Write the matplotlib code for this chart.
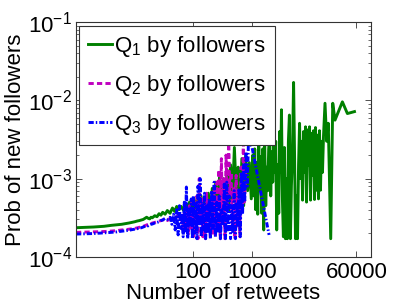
import matplotlib
matplotlib.use("Agg")
import matplotlib.pyplot as plt
from matplotlib.ticker import FixedLocator, FixedFormatter, NullLocator, LogLocator

plt.rcParams['font.family'] = ['Liberation Sans', 'DejaVu Sans']
plt.rcParams['mathtext.fontset'] = 'custom'
plt.rcParams['mathtext.rm'] = 'Liberation Sans'
plt.rcParams['mathtext.it'] = 'Liberation Sans:italic'

# ---------------- data ----------------
q1_x = [1, 2, 3, 4, 5, 6, 7, 8, 9, 10, 11, 12, 13, 14, 15, 16, 17, 18, 19, 20,
        22, 24, 26, 28, 30, 33, 36, 40, 44, 48, 52, 57,
        62, 68, 74, 80, 86, 93, 100, 108, 116, 125, 135, 145, 156, 168, 180, 195,
        210, 225, 240, 260, 280, 300, 325, 350, 375, 400, 430, 460, 500, 540, 580,
        620, 670, 720, 780, 840, 900, 970,
        1030, 1070, 1110, 1150, 1200, 1250, 1300, 1350, 1400, 1460,
        1520, 1580, 1640, 1710, 1780, 1850, 1920, 2000, 2080, 2160,
        2250, 2340, 2430, 2530, 2630, 2740, 2850, 2960, 3080, 3170,
        3300, 3420, 3560, 3700, 3850, 4000, 4160, 4330, 4500, 4680,
        4870, 5100, 5300, 5500, 5720, 5950, 6200, 6450, 6700, 6970,
        7250, 7540, 7840, 8150, 8480, 8820, 9170, 9540, 9920, 10300,
        10700, 11150, 11600, 12050, 12550, 13050, 13550, 14100, 14650, 15250,
        15850, 16500, 17500, 18700, 19900, 21900, 23700, 25900, 34600, 42100,
        55600]
q1_y = [2.35e-4, 2.40e-4, 2.45e-4, 2.52e-4, 2.56e-4, 2.60e-4, 2.65e-4, 2.70e-4, 2.75e-4, 2.80e-4,
        2.86e-4, 2.90e-4, 2.95e-4, 3.00e-4, 3.10e-4, 3.20e-4, 3.10e-4, 3.05e-4, 3.20e-4, 3.15e-4,
        3.35e-4, 3.25e-4, 3.55e-4, 3.40e-4, 3.70e-4, 3.50e-4, 3.90e-4, 3.60e-4, 4.20e-4, 3.80e-4,
        4.40e-4, 4.00e-4,
        4.4e-4, 3.9e-4, 4.8e-4, 4.2e-4, 5.0e-4, 3.8e-4, 5.5e-4, 4.0e-4, 5.8e-4, 3.6e-4, 6.0e-4,
        3.9e-4, 5.2e-4, 3.3e-4, 6.5e-4, 3.5e-4, 7.5e-4, 3.2e-4, 9.0e-4, 4.0e-4, 1.1e-3, 3.3e-4,
        1.0e-3, 4.5e-4, 1.3e-3, 3.8e-4, 1.5e-3, 5.0e-4, 2.5e-3, 6.0e-4, 1.4e-3, 3.5e-4, 1.8e-3,
        4.5e-4, 2.0e-3, 7.0e-4, 1.6e-3, 5.5e-4,
        2.0e-3, 6.0e-4, 2.4e-3, 4.0e-4, 1.6e-3, 3.5e-4, 2.7e-3, 7.0e-4, 1.9e-3, 3.6e-4,
        2.4e-3, 2.2e-4, 2.8e-3, 4.5e-4, 1.4e-3, 7.0e-4, 2.4e-3, 3.6e-3, 6.0e-4, 2.2e-3,
        9.0e-4, 2.6e-3, 1.2e-3, 3.0e-3, 2.2e-4, 1.5e-3, 3.6e-4, 4.0e-3, 1.2e-3, 7.6e-3,
        5.0e-4, 1.8e-4, 2.5e-3, 1.7e-4, 1.0e-3, 1.7e-4, 3.0e-3, 6.5e-3, 1.7e-4, 8.0e-4,
        2.0e-3, 1.7e-2, 2.0e-3, 1.7e-4, 6.0e-4, 1.7e-4, 1.5e-3, 5.1e-3, 1.0e-3, 3.0e-3,
        5.3e-4, 4.0e-3, 1.2e-3, 4.6e-3, 5.0e-4, 4.2e-3, 1.5e-3, 4.6e-3, 5.3e-4, 3.8e-3,
        1.1e-3, 4.1e-3, 5.4e-4, 4.5e-3, 7.1e-4, 3.6e-3, 5.5e-4, 4.1e-3, 7.1e-4, 3.0e-3,
        1.2e-3, 3.5e-3, 9.2e-3, 3.0e-3, 5.1e-3, 1.7e-4, 9.2e-3, 5.6e-3, 9.6e-3, 6.8e-3,
        7.2e-3]

q2_x = [1, 2, 3, 4, 5, 6, 7, 8, 9, 10, 11, 12, 13, 14, 15, 16, 17, 18, 19, 20,
        22, 24, 26, 28, 30, 33, 36, 40, 44, 48, 52, 57,
        62, 66, 70, 74, 78, 82, 86, 90, 95, 100, 105, 110, 115, 120, 126, 132, 138, 145,
        152, 160, 168, 176, 185, 195, 205, 215, 225, 236, 248, 260, 273, 287, 300, 315,
        330, 345, 360, 380, 400, 420, 440, 460, 485, 510, 535, 560, 590, 620, 650, 680,
        710, 740, 780]
q2_y = [2.05e-4, 2.08e-4, 2.10e-4, 2.13e-4, 2.16e-4, 2.20e-4, 2.22e-4, 2.25e-4, 2.28e-4, 2.30e-4,
        2.34e-4, 2.38e-4, 2.40e-4, 2.45e-4, 2.50e-4, 2.55e-4, 2.60e-4, 2.58e-4, 2.65e-4, 2.70e-4,
        2.75e-4, 2.80e-4, 2.85e-4, 2.90e-4, 2.95e-4, 3.00e-4, 2.90e-4, 3.10e-4, 3.30e-4, 3.00e-4,
        3.50e-4, 3.20e-4,
        3.4e-4, 2.2e-4, 3.8e-4, 2.4e-4, 4.0e-4, 1.9e-4, 4.5e-4, 2.2e-4, 5.0e-4, 1.8e-4, 4.2e-4,
        2.0e-4, 6.0e-4, 1.7e-4, 1.0e-3, 2.5e-4, 5.5e-4, 1.8e-4, 4.5e-4, 1.7e-4, 6.5e-4, 2.2e-4,
        4.0e-4, 1.7e-4, 5.5e-4, 2.0e-4, 7.0e-4, 1.8e-4, 9.0e-4, 2.6e-4, 1.3e-3, 1.7e-4, 1.8e-3,
        3.0e-4, 1.0e-3, 1.7e-4, 2.0e-3, 4.0e-4, 3.2e-3, 6.0e-4, 1.2e-3, 2.5e-4, 8.0e-4, 1.7e-4,
        1.1e-3, 2.3e-4, 6.5e-4, 1.8e-4, 1.4e-3, 3.5e-4, 3.2e-3, 5.0e-4, 1.2e-3]

q3_x = [1, 2, 3, 4, 5, 6, 7, 8, 9, 10, 11, 12, 13, 14, 15, 16, 17, 18, 19, 20,
        22, 24, 26, 28, 30, 33, 36, 40,
        43, 46, 49, 52, 55, 58, 61, 64, 67, 70, 73, 76, 80, 84, 88, 92, 96, 100, 105, 110,
        115, 120, 125, 130, 136, 142, 148, 155, 162, 170, 178, 186, 195, 205, 215, 226,
        238, 250, 263, 276, 290, 305, 320, 336, 353, 370, 390, 410, 430, 450, 470, 495,
        520, 545, 570, 600, 630, 660, 690, 720, 750, 790, 830, 870, 1000, 1950]
q3_y = [1.95e-4, 1.98e-4, 2.02e-4, 2.05e-4, 2.08e-4, 2.12e-4, 2.15e-4, 2.18e-4, 2.22e-4, 2.25e-4,
        2.28e-4, 2.32e-4, 2.35e-4, 2.40e-4, 2.45e-4, 2.50e-4, 2.48e-4, 2.55e-4, 2.60e-4, 2.62e-4,
        2.70e-4, 2.75e-4, 2.80e-4, 2.90e-4, 2.95e-4, 3.10e-4, 3.00e-4, 3.20e-4,
        2.6e-4, 3.5e-4, 2.2e-4, 4.0e-4, 1.9e-4, 4.5e-4, 2.3e-4, 3.6e-4, 1.8e-4, 5.0e-4,
        2.0e-4, 7.8e-4, 1.7e-4, 4.2e-4, 2.4e-4, 5.5e-4, 1.7e-4, 6.0e-4, 2.0e-4, 4.8e-4,
        1.7e-4, 8.0e-4, 2.5e-4, 1.0e-3, 1.8e-4, 5.0e-4, 2.2e-4, 6.5e-4, 1.7e-4, 4.5e-4,
        2.0e-4, 5.5e-4, 1.7e-4, 7.0e-4, 2.3e-4, 9.0e-4, 1.8e-4, 5.0e-4, 2.0e-4, 6.0e-4,
        1.7e-4, 4.0e-4, 2.5e-4, 8.5e-4, 1.7e-4, 9.0e-4, 2.2e-4, 6.0e-4, 1.7e-4, 4.5e-4,
        2.0e-4, 7.0e-4, 1.7e-4, 5.0e-4, 2.4e-4, 7.5e-4, 1.8e-4, 1.2e-3, 3.5e-4, 1.5e-3,
        5.0e-4, 2.2e-3, 8.0e-4, 3.2e-3, 2.5e-3, 1.9e-4]

series_labels = [r'Q$_1$ by followers', r'Q$_2$ by followers', r'Q$_3$ by followers']
x_ticks = [100, 1000, 60000]
x_tick_labels = ['100', '1000', '60000']

# ---------------- figure ----------------
fig = plt.figure(figsize=(4.09, 3.07), dpi=100)
ax = fig.add_axes([0.1858, 0.1638, 0.7205, 0.7635])

ax.plot(q1_x, q1_y, color='#008000', lw=2.1, ls='-', label=series_labels[0])
ax.plot(q2_x, q2_y, color='#bf00bf', lw=2.1, ls=(0, (1.8, 1.1)), label=series_labels[1])
ax.plot(q3_x, q3_y, color='#0000ff', lw=2.1, ls=(0, (1.8, 0.7, 0.5, 0.7)), label=series_labels[2])

ax.set_xscale('log')
ax.set_yscale('log')
ax.set_xlim(1, 1.05e5)
ax.set_ylim(1e-4, 1e-1)

ax.xaxis.set_major_locator(FixedLocator(x_ticks))
ax.xaxis.set_major_formatter(FixedFormatter(x_tick_labels))
ax.xaxis.set_minor_locator(NullLocator())
ax.yaxis.set_major_locator(LogLocator(base=10, numticks=10))
ax.yaxis.set_minor_locator(LogLocator(base=10, subs=range(2, 10), numticks=10))

ax.tick_params(which='both', direction='in', top=True, right=True, labelsize=16,
               colors='#333333', labelcolor='black')
ax.tick_params(which='major', length=4, width=0.6)
ax.tick_params(which='minor', length=2, width=0.5)
ax.tick_params(axis='x', pad=4)
ax.tick_params(axis='y', pad=3)
for s in ax.spines.values():
    s.set_color('#333333')
    s.set_linewidth(0.8)

ax.set_xlabel('Number of retweets', fontsize=16, labelpad=0)
ax.set_ylabel('Prob of new followers', fontsize=16, labelpad=1)

leg = ax.legend(loc='upper left', fontsize=16, frameon=True, fancybox=False,
                edgecolor='#333333', framealpha=1, handlelength=1.1,
                handletextpad=0.1, borderpad=0.38, labelspacing=0.62,
                borderaxespad=0.15)
leg.get_frame().set_linewidth(0.8)

fig.savefig('out.png', dpi=100)
